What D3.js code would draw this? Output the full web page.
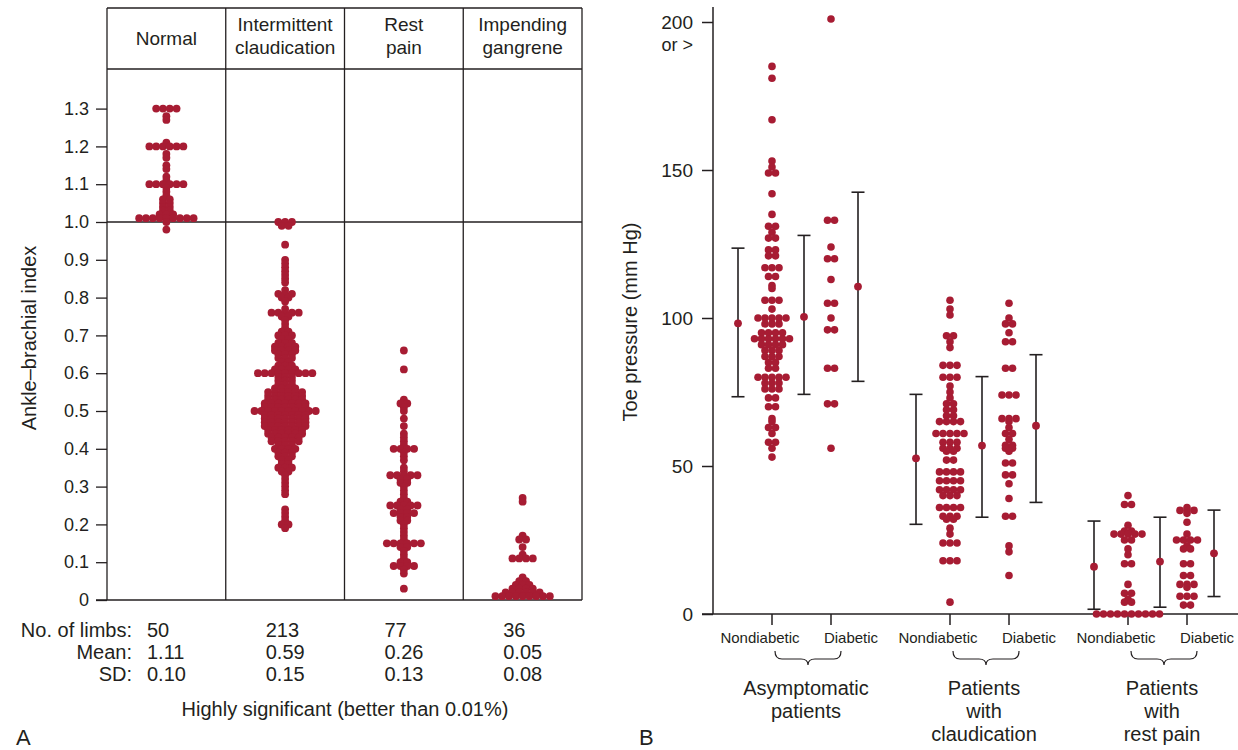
<!DOCTYPE html>
<html>
<head>
<meta charset="utf-8">
<script src="https://cdn.jsdelivr.net/npm/d3@7"></script>
<style>
  body { margin: 0; background: #fff; }
  svg text { font-family: "Liberation Sans", Arial, Helvetica, sans-serif; fill: #231f20; }
</style>
</head>
<body>
<svg id="chart" width="1238" height="750"></svg>
<script>
// ---------- panel A data ----------
var stages = ["Normal", "Intermittent claudication", "Rest pain", "Impending gangrene"];
var stageLines = [["Normal"], ["Intermittent", "claudication"], ["Rest", "pain"], ["Impending", "gangrene"]];
var abiTicks = [0, 0.1, 0.2, 0.3, 0.4, 0.5, 0.6, 0.7, 0.8, 0.9, 1.0, 1.1, 1.2, 1.3];
var limbs = ["50", "213", "77", "36"];
var means = ["1.11", "0.59", "0.26", "0.05"];
var sds = ["0.10", "0.15", "0.13", "0.08"];

// [ABI value, number of limbs at that value]
var abiNormal = [[1.30,4],[1.28,1],[1.27,1],[1.21,1],[1.20,6],[1.18,1],[1.17,1],[1.15,1],[1.14,1],
  [1.12,1],[1.11,1],[1.10,6],[1.09,1],[1.08,1],[1.07,1],[1.06,2],[1.05,2],[1.04,2],[1.03,2],
  [1.02,3],[1.01,9],[1.00,1],[0.98,1]];
var abiClaudication = [[1.00,3],[0.99,2],[0.94,1],[0.90,1],[0.89,1],[0.88,1],[0.87,1],[0.86,1],[0.85,1],[0.84,1],
  [0.82,1],[0.81,3],[0.80,2],[0.79,1],[0.77,1],[0.76,5],[0.75,2],[0.74,1],[0.73,1],[0.72,1],[0.71,2],
  [0.70,3],[0.69,2],[0.68,3],[0.67,4],[0.66,4],[0.65,3],[0.64,3],[0.63,2],[0.62,3],[0.61,4],[0.60,9],[0.59,3],
  [0.58,3],[0.57,3],[0.56,4],[0.55,6],[0.54,6],[0.53,6],[0.52,7],[0.51,7],[0.50,10],[0.49,7],[0.48,7],
  [0.47,7],[0.46,7],[0.45,6],[0.44,6],[0.43,5],[0.42,5],[0.41,3],[0.40,4],[0.39,3],[0.38,3],[0.37,2],
  [0.36,2],[0.35,3],[0.34,2],[0.33,1],[0.32,1],[0.31,1],[0.30,1],[0.29,1],[0.28,1],
  [0.24,1],[0.23,1],[0.22,1],[0.21,1],[0.20,2],[0.19,1]];
var abiRestPain = [[0.66,1],[0.61,1],[0.53,1],[0.52,2],[0.51,1],[0.50,1],[0.48,1],[0.46,1],[0.44,1],[0.43,1],
  [0.42,1],[0.41,1],[0.40,4],[0.39,1],[0.38,1],[0.37,1],[0.35,1],[0.34,1],[0.33,5],[0.32,2],[0.31,2],
  [0.30,1],[0.29,1],[0.28,1],[0.27,1],[0.26,2],[0.25,5],[0.24,2],[0.23,4],[0.22,2],[0.21,2],[0.20,1],
  [0.19,1],[0.18,1],[0.17,1],[0.16,1],[0.15,6],[0.14,2],[0.13,1],[0.12,1],[0.11,1],[0.10,2],[0.09,4],
  [0.08,1],[0.07,1],[0.03,1]];
var abiGangrene = [[0.27,1],[0.26,1],[0.17,1],[0.16,2],[0.14,1],[0.12,1],[0.11,4],
  [0.06,1],[0.05,2],[0.04,3],[0.03,4],[0.02,6],[0.01,9]];
var abiData = [abiNormal, abiClaudication, abiRestPain, abiGangrene];

// ---------- panel B data ----------
var groups = ["Asymptomatic", "Claudication", "Rest pain"];
var groupLines = [["Asymptomatic", "patients"], ["Patients", "with", "claudication"], ["Patients", "with", "rest pain"]];
var pressureTicks = [0, 50, 100, 150, 200];

// [toe pressure mm Hg, number of patients at that value]
var toeNondiabetic = [
  [[185,1],[181,1],[167,1],[153,1],[151,1],[149,2],[142,1],[135,1],[131,2],[129,1],[127,2],[123,2],[121,2],
   [117,3],[114,2],[111,1],[110,1],[106,3],[103,1],[100,5],[98,3],[95,4],[93,6],[91,4],[89,3],[87,3],[85,2],
   [83,2],[80,5],[78,3],[76,3],[73,2],[70,2],[66,1],[65,1],[63,2],[61,1],[58,2],[56,1],[53,1]],
  [[106,1],[103,1],[101,1],[94,2],[92,1],[90,1],[84,3],[80,3],[77,1],[75,1],[73,1],[71,2],[69,2],[67,2],
   [65,4],[61,5],[58,3],[56,3],[55,2],[52,2],[48,4],[45,4],[42,4],[40,3],[36,4],[33,3],[32,2],[29,1],
   [27,1],[24,3],[18,3],[4,1]],
  [[40,1],[37,2],[30,1],[28,2],[27,5],[25,2],[22,1],[20,1],[17,2],[10,1],[7,2],[5,1],[4,2],[0,10]]
];
var toeDiabetic = [
  [[201,1],[133,2],[124,1],[120,2],[113,1],[105,2],[100,1],[96,2],[83,2],[71,2],[56,1]],
  [[105,1],[100,1],[98,2],[95,1],[92,2],[83,2],[74,3],[66,3],[65,1],[63,1],[61,2],[59,1],[57,2],[56,2],
   [55,1],[51,2],[47,2],[44,1],[39,1],[33,2],[23,1],[21,1],[13,1]],
  [[36,1],[35,3],[34,1],[31,1],[27,1],[25,4],[23,1],[22,2],[17,2],[13,2],[10,3],[9,1],[6,3],[3,2]]
];

// mean and range bars: nondiabetic, all patients, diabetic
var ndMean = [98.2, 52.6, 16.0], ndLow = [73.4, 30.3, 1.6], ndHigh = [123.6, 74.2, 31.4];
var allMean = [100.4, 56.9, 17.7], allLow = [74.2, 32.7, 2.3], allHigh = [127.9, 80.2, 32.7];
var dMean = [110.6, 63.6, 20.5], dLow = [78.6, 37.7, 5.9], dHigh = [142.5, 87.6, 35.1];

var red = "#a71c33", ink = "#231f20";
var svg = d3.select("#chart");

function rows(pairs, cx, y, step) {
  var pts = [];
  pairs.forEach(function(p) {
    for (var i = 0; i < p[1]; i++) pts.push({x: cx + (i - (p[1] - 1) / 2) * step, y: y(p[0])});
  });
  return pts;
}

// ================= panel A =================
var xA = d3.scaleBand().domain(stages).range([107, 582]);
var yA = d3.scaleLinear().domain([0, 1.3]).range([600, 600 - 1.3 * 378]);
var gA = svg.append("g");

var yAxisA = gA.append("g")
  .attr("transform", "translate(107,0)")
  .call(d3.axisLeft(yA).tickValues(abiTicks).tickSize(11).tickPadding(7)
    .tickFormat(function(d) { return d === 0 ? "0" : d.toFixed(1); }));
yAxisA.select(".domain").remove();
yAxisA.selectAll("line").attr("stroke", ink).attr("stroke-width", 1.3);
yAxisA.selectAll("text").attr("font-size", 18).style("font-family", null);

gA.append("text")
  .attr("transform", "translate(36,338) rotate(-90)")
  .attr("text-anchor", "middle")
  .attr("font-size", 20)
  .text("Ankle\u2013brachial index");

// frame
var frame = gA.append("g").attr("stroke", ink).attr("stroke-width", 1.3);
frame.selectAll("line.v")
  .data(stages.map(function(s) { return xA(s); }).concat([xA.range()[1]]))
  .enter().append("line")
  .attr("x1", function(d) { return d; }).attr("x2", function(d) { return d; })
  .attr("y1", 8).attr("y2", yA(0));
frame.append("line").attr("x1", 107).attr("x2", 582).attr("y1", 8).attr("y2", 8);
frame.append("line").attr("x1", 107).attr("x2", 582).attr("y1", 69).attr("y2", 69);
frame.append("line").attr("x1", 107).attr("x2", 582).attr("y1", yA(1)).attr("y2", yA(1));
frame.append("line").attr("x1", 96).attr("x2", 582).attr("y1", yA(0)).attr("y2", yA(0));

// header
stageLines.forEach(function(lines, i) {
  var cx = xA(stages[i]) + xA.bandwidth() / 2;
  var t = gA.append("text").attr("text-anchor", "middle").attr("font-size", 19);
  lines.forEach(function(l, j) {
    t.append("tspan").attr("x", cx)
      .attr("y", lines.length === 1 ? 45 : 31 + j * 23)
      .text(l);
  });
});

// dots
abiData.forEach(function(pairs, i) {
  var cx = xA(stages[i]) + xA.bandwidth() / 2;
  gA.append("g").selectAll("circle")
    .data(rows(pairs, cx, yA, 6.8))
    .enter().append("circle")
    .attr("cx", function(d) { return d.x; })
    .attr("cy", function(d) { return d.y; })
    .attr("r", 3.9)
    .attr("fill", red);
});

// table
var tableRows = [["No. of limbs:", limbs], ["Mean:", means], ["SD:", sds]];
tableRows.forEach(function(r, j) {
  var y = 637 + j * 22;
  gA.append("text").attr("x", 132).attr("y", y).attr("text-anchor", "end").attr("font-size", 20).text(r[0]);
  r[1].forEach(function(v, i) {
    gA.append("text").attr("x", xA(stages[i]) + 40).attr("y", y).attr("font-size", 20).text(v);
  });
});
gA.append("text").attr("x", 345).attr("y", 716).attr("text-anchor", "middle").attr("font-size", 20)
  .text("Highly significant (better than 0.01%)");
gA.append("text").attr("x", 16).attr("y", 745).attr("font-size", 22).text("A");

// ================= panel B =================
var xB = d3.scalePoint().domain(groups).range([772, 1128]);
var yB = d3.scaleLinear().domain([0, 200]).range([614, 614 - 200 * 2.96]);
var gB = svg.append("g");
var offD = 59, offL = -34, offM = 32, offR = 86;

var yAxisB = gB.append("g")
  .attr("transform", "translate(713,0)")
  .call(d3.axisLeft(yB).tickValues(pressureTicks).tickSize(11).tickPadding(9));
yAxisB.select(".domain").remove();
yAxisB.selectAll("line").attr("stroke", ink).attr("stroke-width", 1.5);
yAxisB.selectAll("text").attr("font-size", 19).style("font-family", null);
gB.append("text").attr("x", 693).attr("y", yB(200) + 29).attr("text-anchor", "end")
  .attr("font-size", 18).text("or >");

gB.append("line").attr("x1", 713).attr("x2", 713).attr("y1", 7).attr("y2", yB(0))
  .attr("stroke", ink).attr("stroke-width", 1.5);
gB.append("line").attr("x1", 702).attr("x2", 1238).attr("y1", yB(0)).attr("y2", yB(0))
  .attr("stroke", ink).attr("stroke-width", 1.5);

gB.append("text")
  .attr("transform", "translate(637,322) rotate(-90)")
  .attr("text-anchor", "middle")
  .attr("font-size", 20)
  .text("Toe pressure (mm Hg)");

groups.forEach(function(g, i) {
  var cx = xB(g);
  // x ticks
  [cx, cx + offD].forEach(function(x) {
    gB.append("line").attr("x1", x).attr("x2", x).attr("y1", yB(0)).attr("y2", yB(0) + 11)
      .attr("stroke", ink).attr("stroke-width", 1.5);
  });
  gB.append("text").attr("x", cx - 12).attr("y", 643).attr("text-anchor", "middle")
    .attr("font-size", 15).text("Nondiabetic");
  gB.append("text").attr("x", cx + offD + 20).attr("y", 643).attr("text-anchor", "middle")
    .attr("font-size", 15).text("Diabetic");

  // brace
  var x0 = cx + 3, x1 = cx + offD + 10, xm = (x0 + x1) / 2, y0 = 651, y1 = 659, y2 = 665, r = 7;
  gB.append("path")
    .attr("d", "M" + x0 + "," + y0 + " Q" + x0 + "," + y1 + " " + (x0 + r) + "," + y1 +
      " L" + (xm - r) + "," + y1 + " Q" + xm + "," + y1 + " " + xm + "," + y2 +
      " Q" + xm + "," + y1 + " " + (xm + r) + "," + y1 +
      " L" + (x1 - r) + "," + y1 + " Q" + x1 + "," + y1 + " " + x1 + "," + y0)
    .attr("fill", "none").attr("stroke", ink).attr("stroke-width", 1.2);

  var t = gB.append("text").attr("text-anchor", "middle").attr("font-size", 20);
  groupLines[i].forEach(function(l, j) {
    t.append("tspan").attr("x", xm - 2).attr("y", 695 + j * 23).text(l);
  });

  // mean and range bars
  [[offL, ndMean, ndLow, ndHigh], [offM, allMean, allLow, allHigh], [offR, dMean, dLow, dHigh]].forEach(function(b) {
    var x = cx + b[0];
    var bar = gB.append("g").attr("stroke", ink).attr("stroke-width", 1.6);
    bar.append("line").attr("x1", x).attr("x2", x).attr("y1", yB(b[2][i])).attr("y2", yB(b[3][i]));
    bar.append("line").attr("x1", x - 6.5).attr("x2", x + 6.5).attr("y1", yB(b[2][i])).attr("y2", yB(b[2][i]));
    bar.append("line").attr("x1", x - 6.5).attr("x2", x + 6.5).attr("y1", yB(b[3][i])).attr("y2", yB(b[3][i]));
    gB.append("circle").attr("cx", x).attr("cy", yB(b[1][i])).attr("r", 3.9).attr("fill", red);
  });

  // patient dots
  [[toeNondiabetic[i], cx], [toeDiabetic[i], cx + offD]].forEach(function(s) {
    gB.append("g").selectAll("circle")
      .data(rows(s[0], s[1], yB, 7))
      .enter().append("circle")
      .attr("cx", function(d) { return d.x; })
      .attr("cy", function(d) { return d.y; })
      .attr("r", 3.8)
      .attr("fill", red);
  });
});

gB.append("text").attr("x", 639).attr("y", 745).attr("font-size", 22).text("B");
</script>
</body>
</html>
